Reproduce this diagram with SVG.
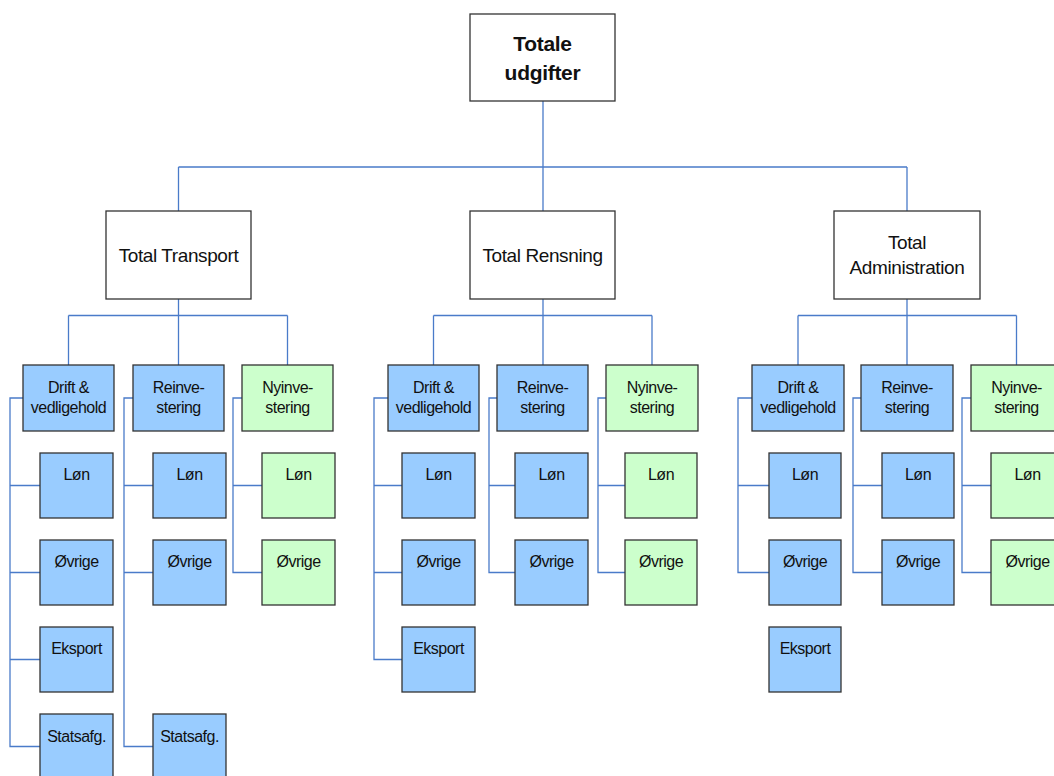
<svg xmlns="http://www.w3.org/2000/svg" width="1054" height="776" viewBox="0 0 1054 776">
<style>
  .bx{stroke:#333;stroke-width:1.3}
  .w{fill:#ffffff}
  .b{fill:#99ccff}
  .g{fill:#ccffcc}
  .t{font-family:"Liberation Sans",Arial,sans-serif;fill:#111;text-anchor:middle}
  .s{font-size:16px;letter-spacing:-0.5px}
  .m{font-size:19px;letter-spacing:-0.4px}
  .h{font-size:21px;font-weight:bold;letter-spacing:-0.3px}
  .c{fill:none;stroke:#4a7bc9;stroke-width:1.3}
</style>
<rect width="1054" height="776" fill="#ffffff"/>
<g id="connectors" class="c">
  <path d="M543 101V167M178.5 167H907M178.5 167V211M543 167V211M907 167V211"/>
  <path d="M178.5 299V315.5M68.5 315.5H287.5M68.5 315.5V365M178.5 315.5V365M287.5 315.5V365"/>
  <path d="M543 299V315.5M433.5 315.5H652M433.5 315.5V365M543 315.5V365M652 315.5V365"/>
  <path d="M907 299V315.5M798 315.5H1016.5M798 315.5V365M907 315.5V365M1016.5 315.5V365"/>
  <path d="M23 398H10V746.5H40M10 485.5H40M10 572.5H40M10 659.5H40"/>
  <path d="M133 398H124V746.5H153M124 485.5H153M124 572.5H153"/>
  <path d="M242 398H233V572.5H262M233 485.5H262"/>
  <path d="M388 398H374V659.5H402M374 485.5H402M374 572.5H402"/>
  <path d="M497 398H489V572.5H515M489 485.5H515"/>
  <path d="M606 398H598V572.5H625M598 485.5H625"/>
  <path d="M752 398H738V572.5H769M738 485.5H769"/>
  <path d="M861 398H853V572.5H882M853 485.5H882"/>
  <path d="M971 398H962V572.5H991M962 485.5H991"/>
</g>
<g id="n-top"><rect class="bx w" x="470" y="14" width="145" height="87"/><text class="t h" x="542.5" y="51">Totale</text><text class="t h" x="542.5" y="80">udgifter</text></g>
<g id="n-transport"><rect class="bx w" x="106" y="211" width="145" height="88"/><text class="t m" x="178.5" y="262">Total Transport</text></g>
<g id="n-rensning"><rect class="bx w" x="470" y="211" width="145" height="88"/><text class="t m" x="542.5" y="262">Total Rensning</text></g>
<g id="n-admin"><rect class="bx w" x="834" y="211" width="146" height="88"/><text class="t m" x="907" y="249">Total</text><text class="t m" x="907" y="274">Administration</text></g>

<g id="n-t-drift"><rect class="bx b" x="23" y="365" width="91" height="66"/><text class="t s" x="68.5" y="393">Drift &amp;</text><text class="t s" x="68.5" y="413">vedligehold</text></g>
<g id="n-t-reinv"><rect class="bx b" x="133" y="365" width="91" height="66"/><text class="t s" x="178.5" y="393">Reinve-</text><text class="t s" x="178.5" y="413">stering</text></g>
<g id="n-t-nyinv"><rect class="bx g" x="242" y="365" width="91" height="66"/><text class="t s" x="287.5" y="393">Nyinve-</text><text class="t s" x="287.5" y="413">stering</text></g>
<g id="n-t-d-lon"><rect class="bx b" x="40" y="453" width="73" height="65"/><text class="t s" x="76.5" y="480">Løn</text></g>
<g id="n-t-d-ovr"><rect class="bx b" x="40" y="540" width="73" height="65"/><text class="t s" x="76.5" y="567">Øvrige</text></g>
<g id="n-t-d-eks"><rect class="bx b" x="40" y="627" width="73" height="65"/><text class="t s" x="76.5" y="654">Eksport</text></g>
<g id="n-t-d-sta"><rect class="bx b" x="40" y="714" width="73" height="65"/><text class="t s" x="76.5" y="742">Statsafg.</text></g>
<g id="n-t-r-lon"><rect class="bx b" x="153" y="453" width="73" height="65"/><text class="t s" x="189.5" y="480">Løn</text></g>
<g id="n-t-r-ovr"><rect class="bx b" x="153" y="540" width="73" height="65"/><text class="t s" x="189.5" y="567">Øvrige</text></g>
<g id="n-t-r-sta"><rect class="bx b" x="153" y="714" width="73" height="65"/><text class="t s" x="189.5" y="742">Statsafg.</text></g>
<g id="n-t-n-lon"><rect class="bx g" x="262" y="453" width="73" height="65"/><text class="t s" x="298.5" y="480">Løn</text></g>
<g id="n-t-n-ovr"><rect class="bx g" x="262" y="540" width="73" height="65"/><text class="t s" x="298.5" y="567">Øvrige</text></g>

<g id="n-r-drift"><rect class="bx b" x="388" y="365" width="91" height="66"/><text class="t s" x="433.5" y="393">Drift &amp;</text><text class="t s" x="433.5" y="413">vedligehold</text></g>
<g id="n-r-reinv"><rect class="bx b" x="497" y="365" width="91" height="66"/><text class="t s" x="542.5" y="393">Reinve-</text><text class="t s" x="542.5" y="413">stering</text></g>
<g id="n-r-nyinv"><rect class="bx g" x="606" y="365" width="92" height="66"/><text class="t s" x="652" y="393">Nyinve-</text><text class="t s" x="652" y="413">stering</text></g>
<g id="n-r-d-lon"><rect class="bx b" x="402" y="453" width="73" height="65"/><text class="t s" x="438.5" y="480">Løn</text></g>
<g id="n-r-d-ovr"><rect class="bx b" x="402" y="540" width="73" height="65"/><text class="t s" x="438.5" y="567">Øvrige</text></g>
<g id="n-r-d-eks"><rect class="bx b" x="402" y="627" width="73" height="65"/><text class="t s" x="438.5" y="654">Eksport</text></g>
<g id="n-r-r-lon"><rect class="bx b" x="515" y="453" width="73" height="65"/><text class="t s" x="551.5" y="480">Løn</text></g>
<g id="n-r-r-ovr"><rect class="bx b" x="515" y="540" width="73" height="65"/><text class="t s" x="551.5" y="567">Øvrige</text></g>
<g id="n-r-n-lon"><rect class="bx g" x="625" y="453" width="72" height="65"/><text class="t s" x="661" y="480">Løn</text></g>
<g id="n-r-n-ovr"><rect class="bx g" x="625" y="540" width="72" height="65"/><text class="t s" x="661" y="567">Øvrige</text></g>

<g id="n-a-drift"><rect class="bx b" x="752" y="365" width="92" height="66"/><text class="t s" x="798" y="393">Drift &amp;</text><text class="t s" x="798" y="413">vedligehold</text></g>
<g id="n-a-reinv"><rect class="bx b" x="861" y="365" width="92" height="66"/><text class="t s" x="907" y="393">Reinve-</text><text class="t s" x="907" y="413">stering</text></g>
<g id="n-a-nyinv"><rect class="bx g" x="971" y="365" width="92" height="66"/><text class="t s" x="1016.5" y="393">Nyinve-</text><text class="t s" x="1016.5" y="413">stering</text></g>
<g id="n-a-d-lon"><rect class="bx b" x="769" y="453" width="72" height="65"/><text class="t s" x="805" y="480">Løn</text></g>
<g id="n-a-d-ovr"><rect class="bx b" x="769" y="540" width="72" height="65"/><text class="t s" x="805" y="567">Øvrige</text></g>
<g id="n-a-d-eks"><rect class="bx b" x="769" y="627" width="72" height="65"/><text class="t s" x="805" y="654">Eksport</text></g>
<g id="n-a-r-lon"><rect class="bx b" x="882" y="453" width="72" height="65"/><text class="t s" x="918" y="480">Løn</text></g>
<g id="n-a-r-ovr"><rect class="bx b" x="882" y="540" width="72" height="65"/><text class="t s" x="918" y="567">Øvrige</text></g>
<g id="n-a-n-lon"><rect class="bx g" x="991" y="453" width="73" height="65"/><text class="t s" x="1027.5" y="480">Løn</text></g>
<g id="n-a-n-ovr"><rect class="bx g" x="991" y="540" width="73" height="65"/><text class="t s" x="1027.5" y="567">Øvrige</text></g>
</svg>
